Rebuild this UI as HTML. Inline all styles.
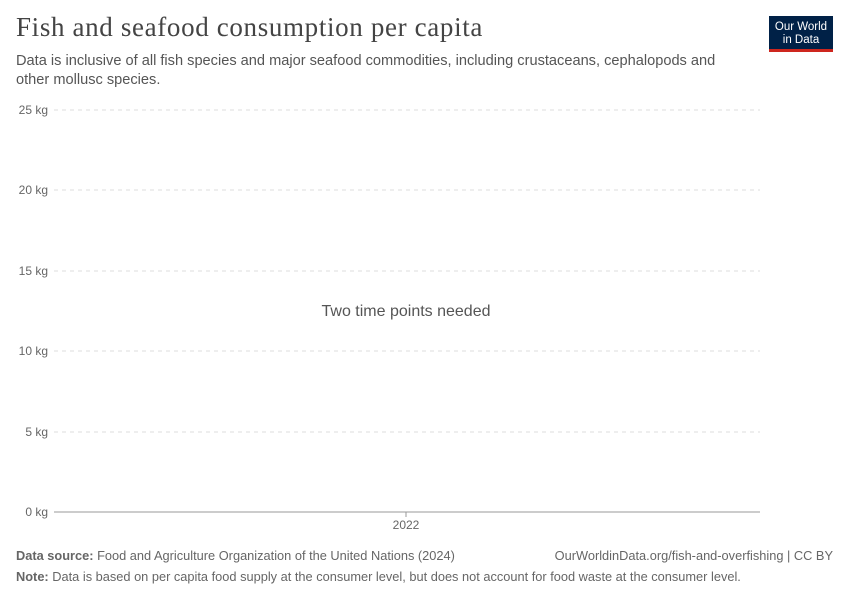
<!DOCTYPE html>
<html><head><style>
body{margin:0;width:850px;height:600px;background:#fff;font-family:"Liberation Sans",sans-serif;position:relative;overflow:hidden}
.t{position:absolute;white-space:nowrap}
</style></head><body>
<div class="t" style="left:16px;top:12px;font-family:'Liberation Serif',serif;font-size:27px;letter-spacing:0.65px;color:#444">Fish and seafood consumption per capita</div>
<div class="t" style="left:16px;top:52px;font-size:14.6px;color:#555;line-height:19px">Data is inclusive of all fish species and major seafood commodities, including crustaceans, cephalopods and<br>other mollusc species.</div>
<div style="position:absolute;left:769px;top:16px;width:64px;height:36px;background:#002147;border-bottom:3px solid #ce261e;color:#fff;font-size:11.5px;text-align:center;line-height:13px;box-sizing:border-box;padding-top:5px">Our World<br>in Data</div>
<svg style="position:absolute;left:0;top:0" width="850" height="600">
<g stroke="#ddd" stroke-dasharray="4,4">
<line x1="54" x2="760" y1="110" y2="110"/><line x1="54" x2="760" y1="190" y2="190"/><line x1="54" x2="760" y1="271" y2="271"/><line x1="54" x2="760" y1="351" y2="351"/><line x1="54" x2="760" y1="432" y2="432"/>
</g>
<line x1="54" x2="760" y1="512" y2="512" stroke="#999"/>
<line x1="406" x2="406" y1="512" y2="517" stroke="#999"/>
<g font-size="12" fill="#666" text-anchor="end">
<text x="48" y="114">25 kg</text><text x="48" y="194">20 kg</text><text x="48" y="275">15 kg</text><text x="48" y="355">10 kg</text><text x="48" y="436">5 kg</text><text x="48" y="516">0 kg</text>
</g>
<text x="406" y="529" font-size="12" fill="#666" text-anchor="middle">2022</text>
<text x="406" y="316" font-size="16" fill="#555" text-anchor="middle">Two time points needed</text>
</svg>
<div class="t" style="left:16px;top:548px;font-size:12.8px;color:#666"><b>Data source:</b> Food and Agriculture Organization of the United Nations (2024)</div>
<div class="t" style="right:17px;top:548px;font-size:12.8px;color:#666">OurWorldinData.org/fish-and-overfishing | CC BY</div>
<div class="t" style="left:16px;top:569px;font-size:12.8px;color:#666"><b>Note:</b> Data is based on per capita food supply at the consumer level, but does not account for food waste at the consumer level.</div>
</body></html>
